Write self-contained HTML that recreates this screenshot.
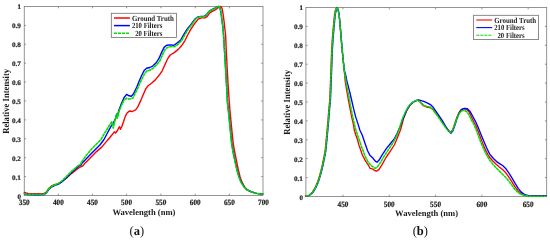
<!DOCTYPE html>
<html><head><meta charset="utf-8"><title>Spectra</title>
<style>html,body{margin:0;padding:0;background:#fff}svg{display:block;opacity:0.999;will-change:transform}</style></head>
<body><svg width="550" height="241" viewBox="0 0 550 241">
<rect width="550" height="241" fill="#fff"/>
<g font-family="'Liberation Serif', serif" font-weight="bold" fill="#1a1a1a" text-rendering="geometricPrecision">
<rect x="24.25" y="6.5" width="238.75" height="189" fill="#fff" stroke="#7a7a7a" stroke-width="0.8"/>
<text x="24.25" y="205" text-anchor="middle" font-size="8.1" fill="#222" stroke="#222" stroke-width="0.2" textLength="10.9" lengthAdjust="spacingAndGlyphs">350</text>
<text x="58.36" y="205" text-anchor="middle" font-size="8.1" fill="#222" stroke="#222" stroke-width="0.2" textLength="10.9" lengthAdjust="spacingAndGlyphs">400</text>
<text x="92.46" y="205" text-anchor="middle" font-size="8.1" fill="#222" stroke="#222" stroke-width="0.2" textLength="10.9" lengthAdjust="spacingAndGlyphs">450</text>
<text x="126.57" y="205" text-anchor="middle" font-size="8.1" fill="#222" stroke="#222" stroke-width="0.2" textLength="10.9" lengthAdjust="spacingAndGlyphs">500</text>
<text x="160.9" y="205" text-anchor="middle" font-size="8.1" fill="#222" stroke="#222" stroke-width="0.2" textLength="10.9" lengthAdjust="spacingAndGlyphs">550</text>
<text x="195.24" y="205" text-anchor="middle" font-size="8.1" fill="#222" stroke="#222" stroke-width="0.2" textLength="10.9" lengthAdjust="spacingAndGlyphs">600</text>
<text x="229.34" y="205" text-anchor="middle" font-size="8.1" fill="#222" stroke="#222" stroke-width="0.2" textLength="10.9" lengthAdjust="spacingAndGlyphs">650</text>
<text x="263.45" y="205" text-anchor="middle" font-size="8.1" fill="#222" stroke="#222" stroke-width="0.2" textLength="10.9" lengthAdjust="spacingAndGlyphs">700</text>
<text x="20.9" y="199" text-anchor="end" font-size="6.95" fill="#222" stroke="#222" stroke-width="0.2" textLength="3.5" lengthAdjust="spacingAndGlyphs">0</text>
<text x="20.9" y="180" text-anchor="end" font-size="6.95" fill="#222" stroke="#222" stroke-width="0.2" textLength="9.0" lengthAdjust="spacingAndGlyphs">0.1</text>
<text x="20.9" y="161" text-anchor="end" font-size="6.95" fill="#222" stroke="#222" stroke-width="0.2" textLength="9.0" lengthAdjust="spacingAndGlyphs">0.2</text>
<text x="20.9" y="142" text-anchor="end" font-size="6.95" fill="#222" stroke="#222" stroke-width="0.2" textLength="9.0" lengthAdjust="spacingAndGlyphs">0.3</text>
<text x="20.9" y="123" text-anchor="end" font-size="6.95" fill="#222" stroke="#222" stroke-width="0.2" textLength="9.0" lengthAdjust="spacingAndGlyphs">0.4</text>
<text x="20.9" y="104" text-anchor="end" font-size="6.95" fill="#222" stroke="#222" stroke-width="0.2" textLength="9.0" lengthAdjust="spacingAndGlyphs">0.5</text>
<text x="20.9" y="85" text-anchor="end" font-size="6.95" fill="#222" stroke="#222" stroke-width="0.2" textLength="9.0" lengthAdjust="spacingAndGlyphs">0.6</text>
<text x="20.9" y="66" text-anchor="end" font-size="6.95" fill="#222" stroke="#222" stroke-width="0.2" textLength="9.0" lengthAdjust="spacingAndGlyphs">0.7</text>
<text x="20.9" y="47" text-anchor="end" font-size="6.95" fill="#222" stroke="#222" stroke-width="0.2" textLength="9.0" lengthAdjust="spacingAndGlyphs">0.8</text>
<text x="20.9" y="28" text-anchor="end" font-size="6.95" fill="#222" stroke="#222" stroke-width="0.2" textLength="9.0" lengthAdjust="spacingAndGlyphs">0.9</text>
<text x="20.9" y="9" text-anchor="end" font-size="6.95" fill="#222" stroke="#222" stroke-width="0.2" textLength="3.5" lengthAdjust="spacingAndGlyphs">1</text>
<path d="M58.36 195.5v-1.8M58.36 6.5v1.8M92.46 195.5v-1.8M92.46 6.5v1.8M126.57 195.5v-1.8M126.57 6.5v1.8M160.9 195.5v-1.8M160.9 6.5v1.8M195.24 195.5v-1.8M195.24 6.5v1.8M229.34 195.5v-1.8M229.34 6.5v1.8M24.25 176.6h1.8M263.0 176.6h-1.8M24.25 157.7h1.8M263.0 157.7h-1.8M24.25 138.8h1.8M263.0 138.8h-1.8M24.25 119.9h1.8M263.0 119.9h-1.8M24.25 101h1.8M263.0 101h-1.8M24.25 82.1h1.8M263.0 82.1h-1.8M24.25 63.2h1.8M263.0 63.2h-1.8M24.25 44.3h1.8M263.0 44.3h-1.8M24.25 25.4h1.8M263.0 25.4h-1.8" stroke="#7a7a7a" stroke-width="0.8" fill="none"/>
<text x="143.93" y="215" text-anchor="middle" font-size="8.6" textLength="63.0" lengthAdjust="spacingAndGlyphs">Wavelength (nm)</text>
<text transform="translate(9 101.35) rotate(-90)" text-anchor="middle" font-size="9.3" textLength="65.0" lengthAdjust="spacingAndGlyphs">Relative Intensity</text>
<rect x="305.9" y="7.5" width="240.8" height="189" fill="#fff" stroke="#7a7a7a" stroke-width="0.8"/>
<text x="342.95" y="207" text-anchor="middle" font-size="8.1" fill="#222" stroke="#222" stroke-width="0.2" textLength="10.9" lengthAdjust="spacingAndGlyphs">450</text>
<text x="389.25" y="207" text-anchor="middle" font-size="8.1" fill="#222" stroke="#222" stroke-width="0.2" textLength="10.9" lengthAdjust="spacingAndGlyphs">500</text>
<text x="435.56" y="207" text-anchor="middle" font-size="8.1" fill="#222" stroke="#222" stroke-width="0.2" textLength="10.9" lengthAdjust="spacingAndGlyphs">550</text>
<text x="481.87" y="207" text-anchor="middle" font-size="8.1" fill="#222" stroke="#222" stroke-width="0.2" textLength="10.9" lengthAdjust="spacingAndGlyphs">600</text>
<text x="528.18" y="207" text-anchor="middle" font-size="8.1" fill="#222" stroke="#222" stroke-width="0.2" textLength="10.9" lengthAdjust="spacingAndGlyphs">650</text>
<text x="302.95" y="200" text-anchor="end" font-size="6.95" fill="#222" stroke="#222" stroke-width="0.2" textLength="3.5" lengthAdjust="spacingAndGlyphs">0</text>
<text x="302.95" y="181" text-anchor="end" font-size="6.95" fill="#222" stroke="#222" stroke-width="0.2" textLength="9.0" lengthAdjust="spacingAndGlyphs">0.1</text>
<text x="302.95" y="162" text-anchor="end" font-size="6.95" fill="#222" stroke="#222" stroke-width="0.2" textLength="9.0" lengthAdjust="spacingAndGlyphs">0.2</text>
<text x="302.95" y="143" text-anchor="end" font-size="6.95" fill="#222" stroke="#222" stroke-width="0.2" textLength="9.0" lengthAdjust="spacingAndGlyphs">0.3</text>
<text x="302.95" y="124" text-anchor="end" font-size="6.95" fill="#222" stroke="#222" stroke-width="0.2" textLength="9.0" lengthAdjust="spacingAndGlyphs">0.4</text>
<text x="302.95" y="105" text-anchor="end" font-size="6.95" fill="#222" stroke="#222" stroke-width="0.2" textLength="9.0" lengthAdjust="spacingAndGlyphs">0.5</text>
<text x="302.95" y="86" text-anchor="end" font-size="6.95" fill="#222" stroke="#222" stroke-width="0.2" textLength="9.0" lengthAdjust="spacingAndGlyphs">0.6</text>
<text x="302.95" y="67" text-anchor="end" font-size="6.95" fill="#222" stroke="#222" stroke-width="0.2" textLength="9.0" lengthAdjust="spacingAndGlyphs">0.7</text>
<text x="302.95" y="48" text-anchor="end" font-size="6.95" fill="#222" stroke="#222" stroke-width="0.2" textLength="9.0" lengthAdjust="spacingAndGlyphs">0.8</text>
<text x="302.95" y="29" text-anchor="end" font-size="6.95" fill="#222" stroke="#222" stroke-width="0.2" textLength="9.0" lengthAdjust="spacingAndGlyphs">0.9</text>
<text x="302.95" y="10" text-anchor="end" font-size="6.95" fill="#222" stroke="#222" stroke-width="0.2" textLength="3.5" lengthAdjust="spacingAndGlyphs">1</text>
<path d="M342.95 196.5v-1.8M342.95 7.5v1.8M389.25 196.5v-1.8M389.25 7.5v1.8M435.56 196.5v-1.8M435.56 7.5v1.8M481.87 196.5v-1.8M481.87 7.5v1.8M528.18 196.5v-1.8M528.18 7.5v1.8M305.9 177.6h1.8M546.7 177.6h-1.8M305.9 158.7h1.8M546.7 158.7h-1.8M305.9 139.8h1.8M546.7 139.8h-1.8M305.9 120.9h1.8M546.7 120.9h-1.8M305.9 102h1.8M546.7 102h-1.8M305.9 83.1h1.8M546.7 83.1h-1.8M305.9 64.2h1.8M546.7 64.2h-1.8M305.9 45.3h1.8M546.7 45.3h-1.8M305.9 26.4h1.8M546.7 26.4h-1.8" stroke="#7a7a7a" stroke-width="0.8" fill="none"/>
<text x="426.6" y="216" text-anchor="middle" font-size="8.6" textLength="63.0" lengthAdjust="spacingAndGlyphs">Wavelength (nm)</text>
<text transform="translate(290 102.35) rotate(-90)" text-anchor="middle" font-size="9.3" textLength="65.0" lengthAdjust="spacingAndGlyphs">Relative Intensity</text>
<path d="M24.3 192.3 L26 193 L28.3 193.5 L36.6 193.7 L43.8 193.7 L46.2 192.2 L48.7 188.6 L51.2 186.2 L54.5 184.6 L58.1 183.7 L61.5 181.8 L66.4 178.2 L71.4 173.6 L76.4 169.6 L79.2 167.6 L81.8 166.4 L83.2 165.6 L84.6 163.6 L86.8 161.4 L91.6 156.5 L96.5 151.6 L101.5 147.4 L105.7 142.4 L109.8 137.5 L112.5 134.3 L114.3 131.8 L115.6 133 L117.4 130.5 L118.7 128 L119.7 126.8 L120.5 129.3 L121.8 126.8 L123.7 121.2 L125.3 116.4 L126.9 113.2 L129.4 111 L132.5 111.5 L135.8 109.6 L137.6 107.2 L139.3 103.6 L141.4 99.1 L143.2 94.8 L145.7 89 L148.1 85.7 L151.5 83.2 L155.3 79.9 L158.7 75.8 L162.2 70.8 L164 66.8 L165.5 63.5 L166.8 60.5 L168 58.2 L170.2 55 L174.2 52.6 L178.2 49.4 L181.5 45.8 L184.8 40.8 L187.3 35.8 L189.8 31 L191.6 28.2 L194.9 23.2 L198.2 19.1 L201.5 17.9 L204.9 17.9 L207.3 16.3 L209.8 12.9 L212.3 11.3 L215.6 9.6 L218.3 7.5 L220.9 6.5 L222.1 8.3 L223.2 14.9 L224.1 21.6 L224.8 28.2 L225.6 34.8 L226.1 46.6 L226.9 63.2 L228.2 86.6 L229.4 103.2 L229.9 110 L231.5 126.6 L233.2 143.2 L234.3 150 L236.4 160.4 L238.3 169.7 L240.1 177 L242 182.2 L244.7 187 L247.5 189.9 L251.5 191.9 L256.5 193.4 L262.7 194" stroke="#ff0000" stroke-width="1.4" fill="none" stroke-linejoin="round" stroke-linecap="round"/>
<path d="M24.3 193.8 L26 194.3 L28.3 194.5 L36.6 194.7 L44.2 194.6 L46.5 192.8 L49 189.2 L51.5 187 L54.8 185.4 L58.1 184.3 L61.5 182.2 L66.4 177.8 L71.4 172.8 L76.6 168 L79.4 165.8 L81.2 165 L82.2 163 L84.9 160.3 L89.9 154.9 L94.9 149.9 L99.9 145 L104 139.5 L107.4 133 L110.8 126.7 L113.2 123.2 L115.7 118.2 L116.6 114.1 L117.4 115.7 L119 109.9 L121.5 103.3 L124 97.8 L126.6 94.4 L129.1 95.8 L131.3 96.2 L133.2 94.2 L135.2 90.2 L136.8 87 L139 81.6 L141.5 75.8 L144 70.8 L146.5 68.3 L149.8 67.5 L153.1 65.8 L156.4 62.5 L159.1 58.2 L161.6 52.4 L164.1 47.4 L166.6 45.3 L169.9 44.9 L174 45.3 L177.3 42.9 L180.7 40 L184 34.1 L187.5 28.6 L191 24.5 L194.5 19.6 L197.2 17.2 L200.7 16.4 L204 16.4 L206.5 14.7 L209 11.4 L211.5 9.8 L214.8 8.1 L217.3 6.8 L218.9 6.5 L220.1 8.3 L221.1 13.3 L221.9 19.9 L222.8 26.5 L223.4 33.2 L224.3 46.6 L225.3 63.2 L226.7 86.6 L227.6 103.2 L228.4 110 L230.1 126.6 L231.7 143.2 L232.8 150 L234.9 160.4 L237 169.7 L239.1 177 L241.1 182.2 L244.2 187 L247.2 189.9 L251.3 191.9 L256.5 193.4 L262.7 194" stroke="#0000ff" stroke-width="1.4" fill="none" stroke-linejoin="round" stroke-linecap="round"/>
<path d="M24.3 193.6 L26 194.1 L28.3 194.3 L36.6 194.4 L44.2 194.3 L46.5 192.3 L49 188.6 L51.5 186.4 L54.8 184.8 L58.1 183.6 L61.5 181.2 L66.4 176.6 L71.4 171.6 L76.4 167 L78.6 165.3 L80.4 164.5 L81.3 162.4 L82.6 160.6 L86.6 154.9 L91.6 149.1 L96.5 144.1 L100.7 140 L104 134.1 L107 129.3 L109.5 125.2 L111.8 121.8 L113.3 128 L114.9 120.7 L116.8 113.7 L117.4 118.1 L119 111.6 L121.3 105.8 L124 100 L126.5 98.3 L129.8 99.1 L133.1 97.8 L134.9 94 L137.4 89 L139.9 83.2 L142.3 78.2 L144.8 73.3 L147.3 70.8 L150.6 70 L153.9 67.5 L157.3 64.1 L159.9 60.7 L162.4 54.9 L164.9 49.9 L167.4 47.4 L170.7 46.6 L174.9 46.6 L178.2 44.1 L181.5 40.8 L184.8 35 L188.3 29 L191.6 24.9 L194.9 19.9 L197.4 17.4 L200.7 16.6 L204 16.6 L206.5 14.9 L209 11.6 L211.5 10 L214.8 8.3 L217.3 6.8 L218.9 6.5 L220.1 8.3 L221.1 13.3 L221.9 19.9 L222.8 26.5 L223.4 33.2 L224.2 46.6 L225.2 63.2 L226.6 86.6 L227.4 103.2 L228.2 110 L229.9 126.6 L231.5 143.2 L232.6 150 L234.7 160.4 L236.8 169.7 L238.9 177 L240.9 182.2 L244.1 187 L247.2 189.9 L251.3 191.9 L256.5 193.4 L262.7 194" stroke="#00e000" stroke-width="1.4" fill="none" stroke-opacity="0.6" stroke-linejoin="round" stroke-linecap="round"/>
<path d="M24.3 193.6 L26 194.1 L28.3 194.3 L36.6 194.4 L44.2 194.3 L46.5 192.3 L49 188.6 L51.5 186.4 L54.8 184.8 L58.1 183.6 L61.5 181.2 L66.4 176.6 L71.4 171.6 L76.4 167 L78.6 165.3 L80.4 164.5 L81.3 162.4 L82.6 160.6 L86.6 154.9 L91.6 149.1 L96.5 144.1 L100.7 140 L104 134.1 L107 129.3 L109.5 125.2 L111.8 121.8 L113.3 128 L114.9 120.7 L116.8 113.7 L117.4 118.1 L119 111.6 L121.3 105.8 L124 100 L126.5 98.3 L129.8 99.1 L133.1 97.8 L134.9 94 L137.4 89 L139.9 83.2 L142.3 78.2 L144.8 73.3 L147.3 70.8 L150.6 70 L153.9 67.5 L157.3 64.1 L159.9 60.7 L162.4 54.9 L164.9 49.9 L167.4 47.4 L170.7 46.6 L174.9 46.6 L178.2 44.1 L181.5 40.8 L184.8 35 L188.3 29 L191.6 24.9 L194.9 19.9 L197.4 17.4 L200.7 16.6 L204 16.6 L206.5 14.9 L209 11.6 L211.5 10 L214.8 8.3 L217.3 6.8 L218.9 6.5 L220.1 8.3 L221.1 13.3 L221.9 19.9 L222.8 26.5 L223.4 33.2 L224.2 46.6 L225.2 63.2 L226.6 86.6 L227.4 103.2 L228.2 110 L229.9 126.6 L231.5 143.2 L232.6 150 L234.7 160.4 L236.8 169.7 L238.9 177 L240.9 182.2 L244.1 187 L247.2 189.9 L251.3 191.9 L256.5 193.4 L262.7 194" stroke="#00e000" stroke-width="1.4" fill="none" stroke-linejoin="round" stroke-linecap="butt" stroke-dasharray="2.8 0.9"/>
<path d="M305.45 196 L308.95 195.3 L312.15 192.6 L315.25 187.4 L317.95 181.1 L320.45 172.8 L322.45 164.5 L324.15 156.2 L325.25 149.8 L326.65 135.3 L327.95 120.8 L328.95 108.3 L329.75 100 L330.45 83.2 L331.05 66.6 L331.65 50 L332.45 37.4 L333.55 24.9 L334.55 14.5 L335.65 9.3 L337 7.6 L338 9.3 L339.1 14.5 L340.1 24.9 L341.1 37.4 L342.2 50 L343.2 60.4 L344.3 70.8 L345.2 81.1 L346.9 91.5 L348.4 100 L350 108.3 L351.6 116.6 L353.5 124.9 L354.3 130 L355.6 134.5 L357.6 140 L358.9 145 L360.7 150 L362.3 154.9 L365.6 161.1 L368.7 165.7 L370.1 168.4 L372.4 168.8 L374.5 170.5 L376.6 171.1 L379.1 169.4 L382.2 164.3 L386.3 157 L390.5 150.8 L394.6 144.5 L398 136.2 L400.4 130 L401.5 126.5 L403.6 118.2 L406.6 111 L409.6 105.8 L412.5 102.6 L415.3 101 L417.8 100.2 L420.3 102.2 L423.4 105.7 L426.5 107 L429.6 107.5 L432 108.6 L433.8 109.9 L436.9 114.1 L440 118.4 L442.8 122.8 L446.6 127.8 L449.1 131.1 L450.8 132.1 L452.8 129.4 L454.9 123.2 L457 117 L459.1 112.4 L461.1 109.7 L463.6 108.7 L466.3 109.3 L469 111.8 L471.5 117 L474 122.2 L475.8 125.5 L478.4 132 L481.6 140.5 L484.8 148.4 L488.1 155.1 L490.2 158 L493.1 161.2 L496.2 164.3 L499.3 167 L502.5 169.5 L505.6 172.6 L508.7 176.8 L511.8 181.6 L514.9 186.6 L518 190.7 L521.1 193.6 L524.3 195.3 L528.4 195.9 L546.2 196" stroke="#ff0000" stroke-width="1.35" fill="none" stroke-linejoin="round" stroke-linecap="round"/>
<path d="M306.15 196 L309.65 195.3 L312.85 192.6 L315.95 187.4 L318.65 181.1 L321.15 172.8 L323.15 164.5 L324.85 156.2 L325.95 149.8 L327.35 135.3 L328.65 120.8 L329.65 108.3 L330.45 100 L331.15 83.2 L331.75 66.6 L332.35 50 L333.15 37.4 L334.25 24.9 L335.25 14.5 L336.35 9.3 L337 7.6 L338 9.3 L339.1 14.5 L340.1 24.9 L341.1 37.4 L342.2 50 L343.2 60.4 L344.4 70.8 L345.7 74.9 L346.9 81.1 L349.6 91.5 L351.6 100 L353.5 108.3 L355.6 116.6 L358.3 124.9 L359.8 130 L362.2 135 L364.9 143 L367.6 150.8 L369.7 154.9 L372.8 158 L375.3 161.1 L377 162.2 L379.1 160.1 L382.2 154.9 L386.3 148.7 L390.5 143.5 L394.6 138.3 L397.3 133.1 L399.2 128.5 L400.4 125.8 L403.3 118.2 L406.8 109.9 L409.9 105.1 L413 102.2 L416.1 100.6 L418.6 99.9 L421.3 100.6 L424.4 101.6 L427.6 103.1 L430.4 104.6 L433.2 107.3 L436 111.4 L439.1 115.8 L442.3 120.7 L445.6 126.3 L448.7 131.1 L450.8 133.2 L452.8 131.1 L454.9 125.3 L457 118.6 L459.5 112.4 L461.6 109.7 L464.3 108.3 L467.4 108.7 L469.9 111.2 L472.6 116 L475.3 121.1 L477.6 126 L480.6 133.5 L483.5 140.6 L486.6 147.8 L489.7 154.1 L491.5 156.3 L493.7 158.8 L496.6 161.6 L500 163.9 L502.9 165.8 L506.2 169.1 L509.1 173.3 L512.2 178.3 L515.3 183.6 L518.4 188.6 L521.6 192.4 L524.9 194.7 L528.4 195.6 L533.6 195.8 L546.2 195.8" stroke="#0000ff" stroke-width="1.35" fill="none" stroke-linejoin="round" stroke-linecap="round"/>
<path d="M305.8 196 L309.3 195.3 L312.5 192.6 L315.6 187.4 L318.3 181.1 L320.8 172.8 L322.8 164.5 L324.5 156.2 L325.6 149.8 L327 135.3 L328.3 120.8 L329.3 108.3 L330.1 100 L330.8 83.2 L331.4 66.6 L332 50 L332.8 37.4 L333.9 24.9 L334.9 14.5 L336 9.3 L337 7.6 L338 9.3 L339.1 14.5 L340.1 24.9 L341.1 37.4 L342.2 50 L343.2 60.4 L344.3 70.8 L346 81.1 L347.9 91.5 L349.6 100 L351 108.3 L352.7 116.6 L354.5 124.9 L355.9 130 L358.3 137.5 L360.2 142.5 L361.4 146.6 L363.4 151.5 L364.6 154.9 L367.6 161.1 L370.8 165.3 L373.3 167 L374.9 168.4 L377 167.4 L380.1 163.2 L384.3 155.9 L388.4 149.7 L392.6 143.5 L396.5 136.2 L399.4 128 L402.6 118.2 L405.8 111 L408.9 105.8 L412 102.6 L415.1 101 L417.8 100.2 L420.3 102 L423.4 105.1 L426.5 106.4 L429.6 106.8 L430.8 107.6 L433 109.9 L436 113.9 L439.2 118.3 L442.3 122.8 L445.4 127.4 L448.3 130.9 L450.3 132.6 L452.4 130.5 L454.5 125.3 L456.6 119.1 L459.1 113.9 L461.1 111.2 L463.6 110.3 L466.3 111.4 L469 114.9 L471.5 120.1 L474.3 125.2 L477 132 L480 140.2 L483.3 148.3 L486.5 154.8 L489.8 160.3 L493 164.4 L496.1 167.8 L499.2 171 L502.5 174.2 L505.6 177.4 L508.7 180.9 L511.8 185.1 L514.9 189.3 L518 192.4 L521.1 194.4 L525.3 195.7 L531.5 196.3 L546.2 196.3" stroke="#00e000" stroke-width="1.35" fill="none" stroke-opacity="0.6" stroke-linejoin="round" stroke-linecap="round"/>
<path d="M305.8 196 L309.3 195.3 L312.5 192.6 L315.6 187.4 L318.3 181.1 L320.8 172.8 L322.8 164.5 L324.5 156.2 L325.6 149.8 L327 135.3 L328.3 120.8 L329.3 108.3 L330.1 100 L330.8 83.2 L331.4 66.6 L332 50 L332.8 37.4 L333.9 24.9 L334.9 14.5 L336 9.3 L337 7.6 L338 9.3 L339.1 14.5 L340.1 24.9 L341.1 37.4 L342.2 50 L343.2 60.4 L344.3 70.8 L346 81.1 L347.9 91.5 L349.6 100 L351 108.3 L352.7 116.6 L354.5 124.9 L355.9 130 L358.3 137.5 L360.2 142.5 L361.4 146.6 L363.4 151.5 L364.6 154.9 L367.6 161.1 L370.8 165.3 L373.3 167 L374.9 168.4 L377 167.4 L380.1 163.2 L384.3 155.9 L388.4 149.7 L392.6 143.5 L396.5 136.2 L399.4 128 L402.6 118.2 L405.8 111 L408.9 105.8 L412 102.6 L415.1 101 L417.8 100.2 L420.3 102 L423.4 105.1 L426.5 106.4 L429.6 106.8 L430.8 107.6 L433 109.9 L436 113.9 L439.2 118.3 L442.3 122.8 L445.4 127.4 L448.3 130.9 L450.3 132.6 L452.4 130.5 L454.5 125.3 L456.6 119.1 L459.1 113.9 L461.1 111.2 L463.6 110.3 L466.3 111.4 L469 114.9 L471.5 120.1 L474.3 125.2 L477 132 L480 140.2 L483.3 148.3 L486.5 154.8 L489.8 160.3 L493 164.4 L496.1 167.8 L499.2 171 L502.5 174.2 L505.6 177.4 L508.7 180.9 L511.8 185.1 L514.9 189.3 L518 192.4 L521.1 194.4 L525.3 195.7 L531.5 196.3 L546.2 196.3" stroke="#00e000" stroke-width="1.35" fill="none" stroke-linejoin="round" stroke-linecap="butt" stroke-dasharray="2.8 0.9"/>
<rect x="111.3" y="13.3" width="65.1" height="24.1" fill="#fff" stroke="#6e6e6e" stroke-width="0.8"/>
<path d="M114 18H129.9" stroke="#ff0000" stroke-width="1.5" fill="none"/>
<text x="131.9" y="20.6" font-size="7.8" textLength="42" lengthAdjust="spacingAndGlyphs">Ground Truth</text>
<path d="M114 25.6H129.9" stroke="#0000ff" stroke-width="1.5" fill="none"/>
<text x="131.9" y="28.2" font-size="7.8" textLength="30.4" lengthAdjust="spacingAndGlyphs">210 Filters</text>
<path d="M114 33.2H129.9" stroke="#00e000" stroke-width="1.5" stroke-dasharray="3 1" fill="none"/>
<text x="135.2" y="35.8" font-size="7.8" textLength="27.1" lengthAdjust="spacingAndGlyphs">20 Filters</text>
<rect x="473.6" y="15.3" width="64.8" height="24.3" fill="#fff" stroke="#6e6e6e" stroke-width="0.8"/>
<path d="M476.3 20H492.2" stroke="#ff0000" stroke-width="1.1" fill="none"/>
<text x="494.2" y="22.6" font-size="7.8" textLength="42" lengthAdjust="spacingAndGlyphs">Ground Truth</text>
<path d="M476.3 27.6H492.2" stroke="#0000ff" stroke-width="1.1" fill="none"/>
<text x="494.2" y="30.2" font-size="7.8" textLength="30.4" lengthAdjust="spacingAndGlyphs">210 Filters</text>
<path d="M476.3 35.2H492.2" stroke="#00e000" stroke-width="1.1" stroke-dasharray="3 1" fill="none"/>
<text x="497.5" y="37.8" font-size="7.8" textLength="27.1" lengthAdjust="spacingAndGlyphs">20 Filters</text>
</g>
<g font-family="'Liberation Serif', serif" font-size="13" fill="#111" text-anchor="middle" text-rendering="geometricPrecision">
<text transform="translate(136.9 235) scale(0.96 1)">(<tspan font-weight="bold">a</tspan>)</text>
<text transform="translate(420.3 235) scale(0.96 1)">(<tspan font-weight="bold">b</tspan>)</text>
</g>
</svg></body></html>
